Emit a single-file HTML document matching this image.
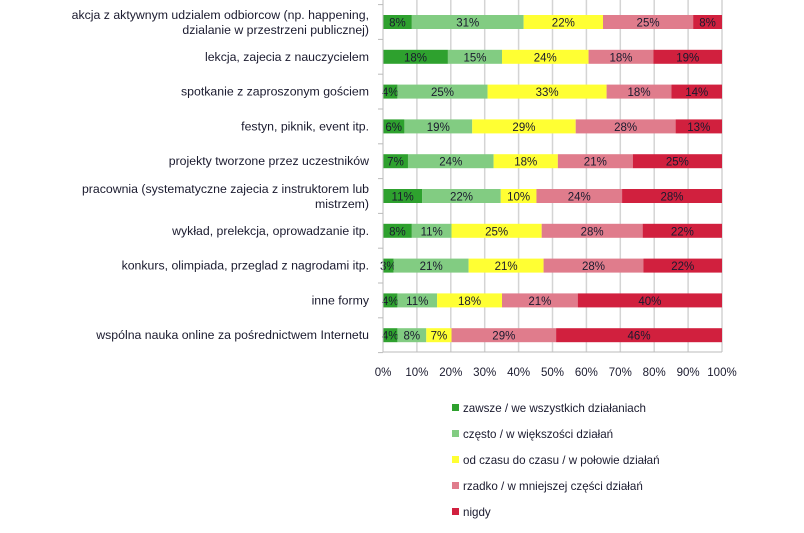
<!DOCTYPE html>
<html><head><meta charset="utf-8"><style>html,body{margin:0;padding:0;background:#fff}svg{display:block}</style></head>
<body>
<svg id="c" width="804" height="533" xmlns="http://www.w3.org/2000/svg" font-family="Liberation Sans, sans-serif" font-size="11.5" fill="#1a1a2e">
<g id="grid" stroke="#d4d4d4" stroke-width="1.5"></g>
<g id="bars"></g>
<line x1="383" y1="0" x2="383" y2="352" stroke="#bbb"/>
<line x1="383" y1="352" x2="722" y2="352" stroke="#bbb"/>
<g id="lab" text-anchor="end" font-size="12.3"></g>
<g id="ticks" text-anchor="middle"></g>
<g id="leg"></g>
</svg>
<script>
var NS="http://www.w3.org/2000/svg";
function el(p,t,a,txt){var e=document.createElementNS(NS,t);for(var k in a)e.setAttribute(k,a[k]);if(txt!=null)e.textContent=txt;document.getElementById(p).appendChild(e);return e;}
var cols=["#2ea12e","#82cc82","#ffff33","#e07c8c","#d1203e"];
var data=[[8,31,22,25,8],[18,15,24,18,19],[4,25,33,18,14],[6,19,29,28,13],[7,24,18,21,25],[11,22,10,24,28],[8,11,25,28,22],[3,21,21,28,22],[4,11,18,21,40],[4,8,7,29,46]];
var labels=[["akcja z aktywnym udzialem odbiorcow (np. happening,","dzialanie w przestrzeni publicznej)"],["lekcja, zajecia z nauczycielem"],["spotkanie z zaproszonym gościem"],["festyn, piknik, event itp."],["projekty tworzone przez uczestników"],["pracownia (systematyczne zajecia z instruktorem lub","mistrzem)"],["wykład, prelekcja, oprowadzanie itp."],["konkurs, olimpiada, przeglad z nagrodami itp."],["inne formy"],["wspólna nauka online za pośrednictwem Internetu"]];
var x0=383,W=339;
for(var i=1;i<=10;i++){var x=x0+W*i/10;el("grid","line",{x1:x,y1:0,x2:x,y2:352});}
for(var i=0;i<=10;i++){el("ticks","text",{x:x0+W*i/10,y:376},(i*10)+"%");}
for(var i=0;i<=10;i++){el("ticks","line",{x1:378,x2:383,y1:4.6+i*34.8,y2:4.6+i*34.8,stroke:"#bbb"});}
data.forEach(function(r,i){var cy=22+i*34.8,s=r.reduce(function(a,b){return a+b},0),x=x0;
r.forEach(function(v,j){var w=W*v/s;el("bars","rect",{x:x,y:cy-7,width:w,height:14,fill:cols[j]});
el("bars","text",{x:x+w/2,y:cy+4.5,"text-anchor":"middle","font-size":"11.5"},v+"%");x+=w;});
var L=labels[i];if(L.length==1)el("lab","text",{x:369,y:cy+4},L[0]);else{el("lab","text",{x:369,y:cy-3},L[0]);el("lab","text",{x:369,y:cy+12},L[1]);}
});
var lt=["zawsze / we wszystkich działaniach","często / w większości działań","od czasu do czasu / w połowie działań","rzadko / w mniejszej części działań","nigdy"];
lt.forEach(function(t,i){var y=408+i*26;el("leg","rect",{x:452,y:y-4,width:7,height:7,fill:cols[i]});el("leg","text",{x:463,y:y+4,"font-size":"11.6"},t);});
</script>
</body></html>
